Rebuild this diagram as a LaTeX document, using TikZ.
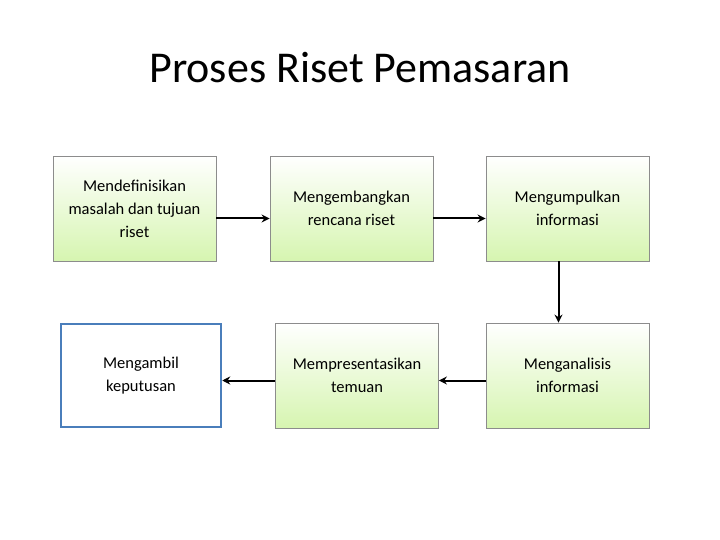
\documentclass[tikz,border=0pt]{standalone}
\usepackage{fontspec}
\setmainfont{Carlito}
\usetikzlibrary{arrows.meta}
\definecolor{endblue}{HTML}{4A7EBB}
\definecolor{boxgreen}{HTML}{D6F5B0}
\begin{document}
\begin{tikzpicture}[x=1pt,y=-1pt,
  box/.style={draw=black!45, line width=0.8pt, top color=white, bottom color=boxgreen, minimum width=163pt, minimum height=105pt, align=center, font=\fontsize{16.5}{23}\selectfont, inner sep=2pt},
  endbox/.style={draw=endblue, line width=2.5pt, fill=white, minimum width=160pt, minimum height=103pt, align=center, font=\fontsize{16.5}{23}\selectfont},
  conn/.style={-{Stealth[length=8pt,width=8pt]}, line width=2pt}]
\useasboundingbox (0,0) rectangle (720,540);
\node (title) at (360,68) {\fontsize{44}{50}\selectfont Proses Riset Pemasaran};
\node[box] (a) at (134.5,208.5) {Mendefinisikan\\masalah dan tujuan\\riset};
\node[box] (b) at (351.5,208.5) {Mengembangkan\\rencana riset};
\node[box] (c) at (567.5,208.5) {Mengumpulkan\\informasi};
\node[endbox] (d) at (141,375.5) {Mengambil\\keputusan};
\node[box] (e) at (357,375.5) {Mempresentasikan\\temuan};
\node[box] (f) at (567.5,375.5) {Menganalisis\\informasi};
\draw[conn] (a.east) ++(0,10) coordinate (a1) -- (a1 -| b.west);
\draw[conn] (b.east) ++(0,10) coordinate (b1) -- (b1 -| c.west);
\draw[conn] ([xshift=-9pt]c.south) -- ([xshift=-9pt]c.south |- f.north);
\draw[conn] (f.west) ++(0,5) coordinate (f1) -- (f1 -| e.east);
\draw[conn] (e.west) ++(0,5) coordinate (e1) -- (e1 -| d.east);
\end{tikzpicture}
\end{document}
